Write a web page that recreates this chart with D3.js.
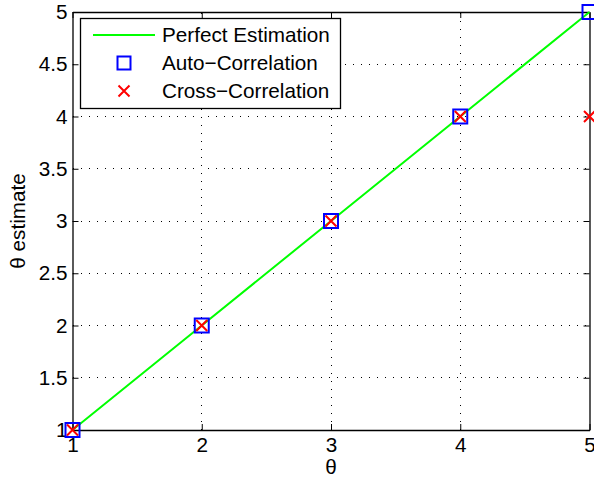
<!DOCTYPE html>
<html><head><meta charset="utf-8">
<script src="https://cdn.jsdelivr.net/npm/d3@7"></script>
<style>body{margin:0;background:#fff}svg{display:block}text{font-family:Arial,"Liberation Sans",Helvetica,sans-serif}</style>
</head><body><div id="chart"></div>
<script>
const thetaValues = [1, 2, 3, 4, 5];
const perfectEstimation = [1, 2, 3, 4, 5];
const autoCorrelation = [1, 2, 3, 4, 5];
const crossCorrelation = [1, 2, 3, 4, 4];
const xTicks = [1, 2, 3, 4, 5];
const yTicks = [1, 1.5, 2, 2.5, 3, 3.5, 4, 4.5, 5];
const legendLabels = ["Perfect Estimation", "Auto\u2212Correlation", "Cross\u2212Correlation"];

const W = 594, H = 479;
const m = {left: 72.5, right: 4.5, top: 12, bottom: 49};
const svg = d3.select("#chart").append("svg").attr("width", W).attr("height", H);
const x = d3.scaleLinear().domain([1, 5]).range([m.left, W - m.right]);
const y = d3.scaleLinear().domain([1, 5]).range([H - m.bottom, m.top]);
const fs = 20.7;

// grid
const g = svg.append("g");
g.selectAll(".gx").data(xTicks.slice(1, -1)).enter().append("line")
  .attr("x1", d => x(d)).attr("x2", d => x(d)).attr("y1", y(1)).attr("y2", y(5))
  .attr("stroke", "#000").attr("stroke-width", 1).attr("stroke-dasharray", "1,7").attr("shape-rendering", "crispEdges");
g.selectAll(".gy").data(yTicks.slice(1, -1)).enter().append("line")
  .attr("y1", d => y(d)).attr("y2", d => y(d)).attr("x1", x(1)).attr("x2", x(5))
  .attr("stroke", "#000").attr("stroke-width", 1).attr("stroke-dasharray", "1,7").attr("shape-rendering", "crispEdges");

// axes
const fmt = d => String(d);
const ax = [
  svg.append("g").attr("transform", `translate(0,${y(1)})`).call(d3.axisBottom(x).tickValues(xTicks).tickFormat(fmt).tickSizeInner(-6).tickSizeOuter(0).tickPadding(7)),
  svg.append("g").attr("transform", `translate(0,${y(5)})`).call(d3.axisTop(x).tickValues(xTicks).tickFormat("").tickSizeInner(-6).tickSizeOuter(0)),
  svg.append("g").attr("transform", `translate(${x(1)},0)`).call(d3.axisLeft(y).tickValues(yTicks).tickFormat(fmt).tickSizeInner(-6).tickSizeOuter(0).tickPadding(5)),
  svg.append("g").attr("transform", `translate(${x(5)},0)`).call(d3.axisRight(y).tickValues(yTicks).tickFormat("").tickSizeInner(-6).tickSizeOuter(0))
];
ax.forEach(a => {
  a.select(".domain").attr("stroke", "#000").attr("stroke-width", 1.3);
  a.selectAll(".tick line").attr("stroke", "#000").attr("stroke-width", 1);
  a.selectAll(".tick text").attr("font-size", fs).attr("fill", "#000").attr("font-family", "Arial, 'Liberation Sans', sans-serif");
});

// perfect line
svg.append("path").datum(thetaValues.map((t, i) => [t, perfectEstimation[i]]))
  .attr("d", d3.line().x(d => x(d[0])).y(d => y(d[1])))
  .attr("fill", "none").attr("stroke", "#00ff00").attr("stroke-width", 2);

const sq = 14, xs = 5.5;
// auto squares
svg.append("g").selectAll("rect").data(thetaValues.map((t, i) => [t, autoCorrelation[i]])).enter().append("rect")
  .attr("x", d => x(d[0]) - sq / 2).attr("y", d => y(d[1]) - sq / 2).attr("width", sq).attr("height", sq)
  .attr("fill", "none").attr("stroke", "#0000ff").attr("stroke-width", 2);
// cross x marks
svg.append("g").selectAll("path").data(thetaValues.map((t, i) => [t, crossCorrelation[i]])).enter().append("path")
  .attr("d", d => `M${x(d[0]) - xs},${y(d[1]) - xs}L${x(d[0]) + xs},${y(d[1]) + xs}M${x(d[0]) - xs},${y(d[1]) + xs}L${x(d[0]) + xs},${y(d[1]) - xs}`)
  .attr("stroke", "#ff0000").attr("stroke-width", 2).attr("fill", "none");

// axis labels
svg.append("text").attr("x", x(3)).attr("y", 474).attr("text-anchor", "middle").attr("font-size", fs).text("\u03b8");
svg.append("text").attr("transform", `translate(25,${(y(1) + y(5)) / 2}) rotate(-90)`).attr("text-anchor", "middle").attr("font-size", fs).text("\u03b8 estimate");

// legend
const lg = svg.append("g");
lg.append("rect").attr("x", 80.5).attr("y", 18.5).attr("width", 260).attr("height", 90)
  .attr("fill", "#fff").attr("stroke", "#000").attr("stroke-width", 1.3);
const ly = [35, 63, 91];
lg.append("line").attr("x1", 93).attr("x2", 155).attr("y1", ly[0]).attr("y2", ly[0]).attr("stroke", "#00ff00").attr("stroke-width", 2);
lg.append("rect").attr("x", 124 - 6.5).attr("y", ly[1] - 6.5).attr("width", 13).attr("height", 13).attr("fill", "none").attr("stroke", "#0000ff").attr("stroke-width", 2);
lg.append("path").attr("d", `M${124 - xs},${ly[2] - xs}L${124 + xs},${ly[2] + xs}M${124 - xs},${ly[2] + xs}L${124 + xs},${ly[2] - xs}`).attr("stroke", "#ff0000").attr("stroke-width", 2);
lg.selectAll("text.l").data(legendLabels).enter().append("text")
  .attr("x", 162).attr("y", (d, i) => ly[i]).attr("dy", "0.36em").attr("font-size", fs).text(d => d);
</script></body></html>
